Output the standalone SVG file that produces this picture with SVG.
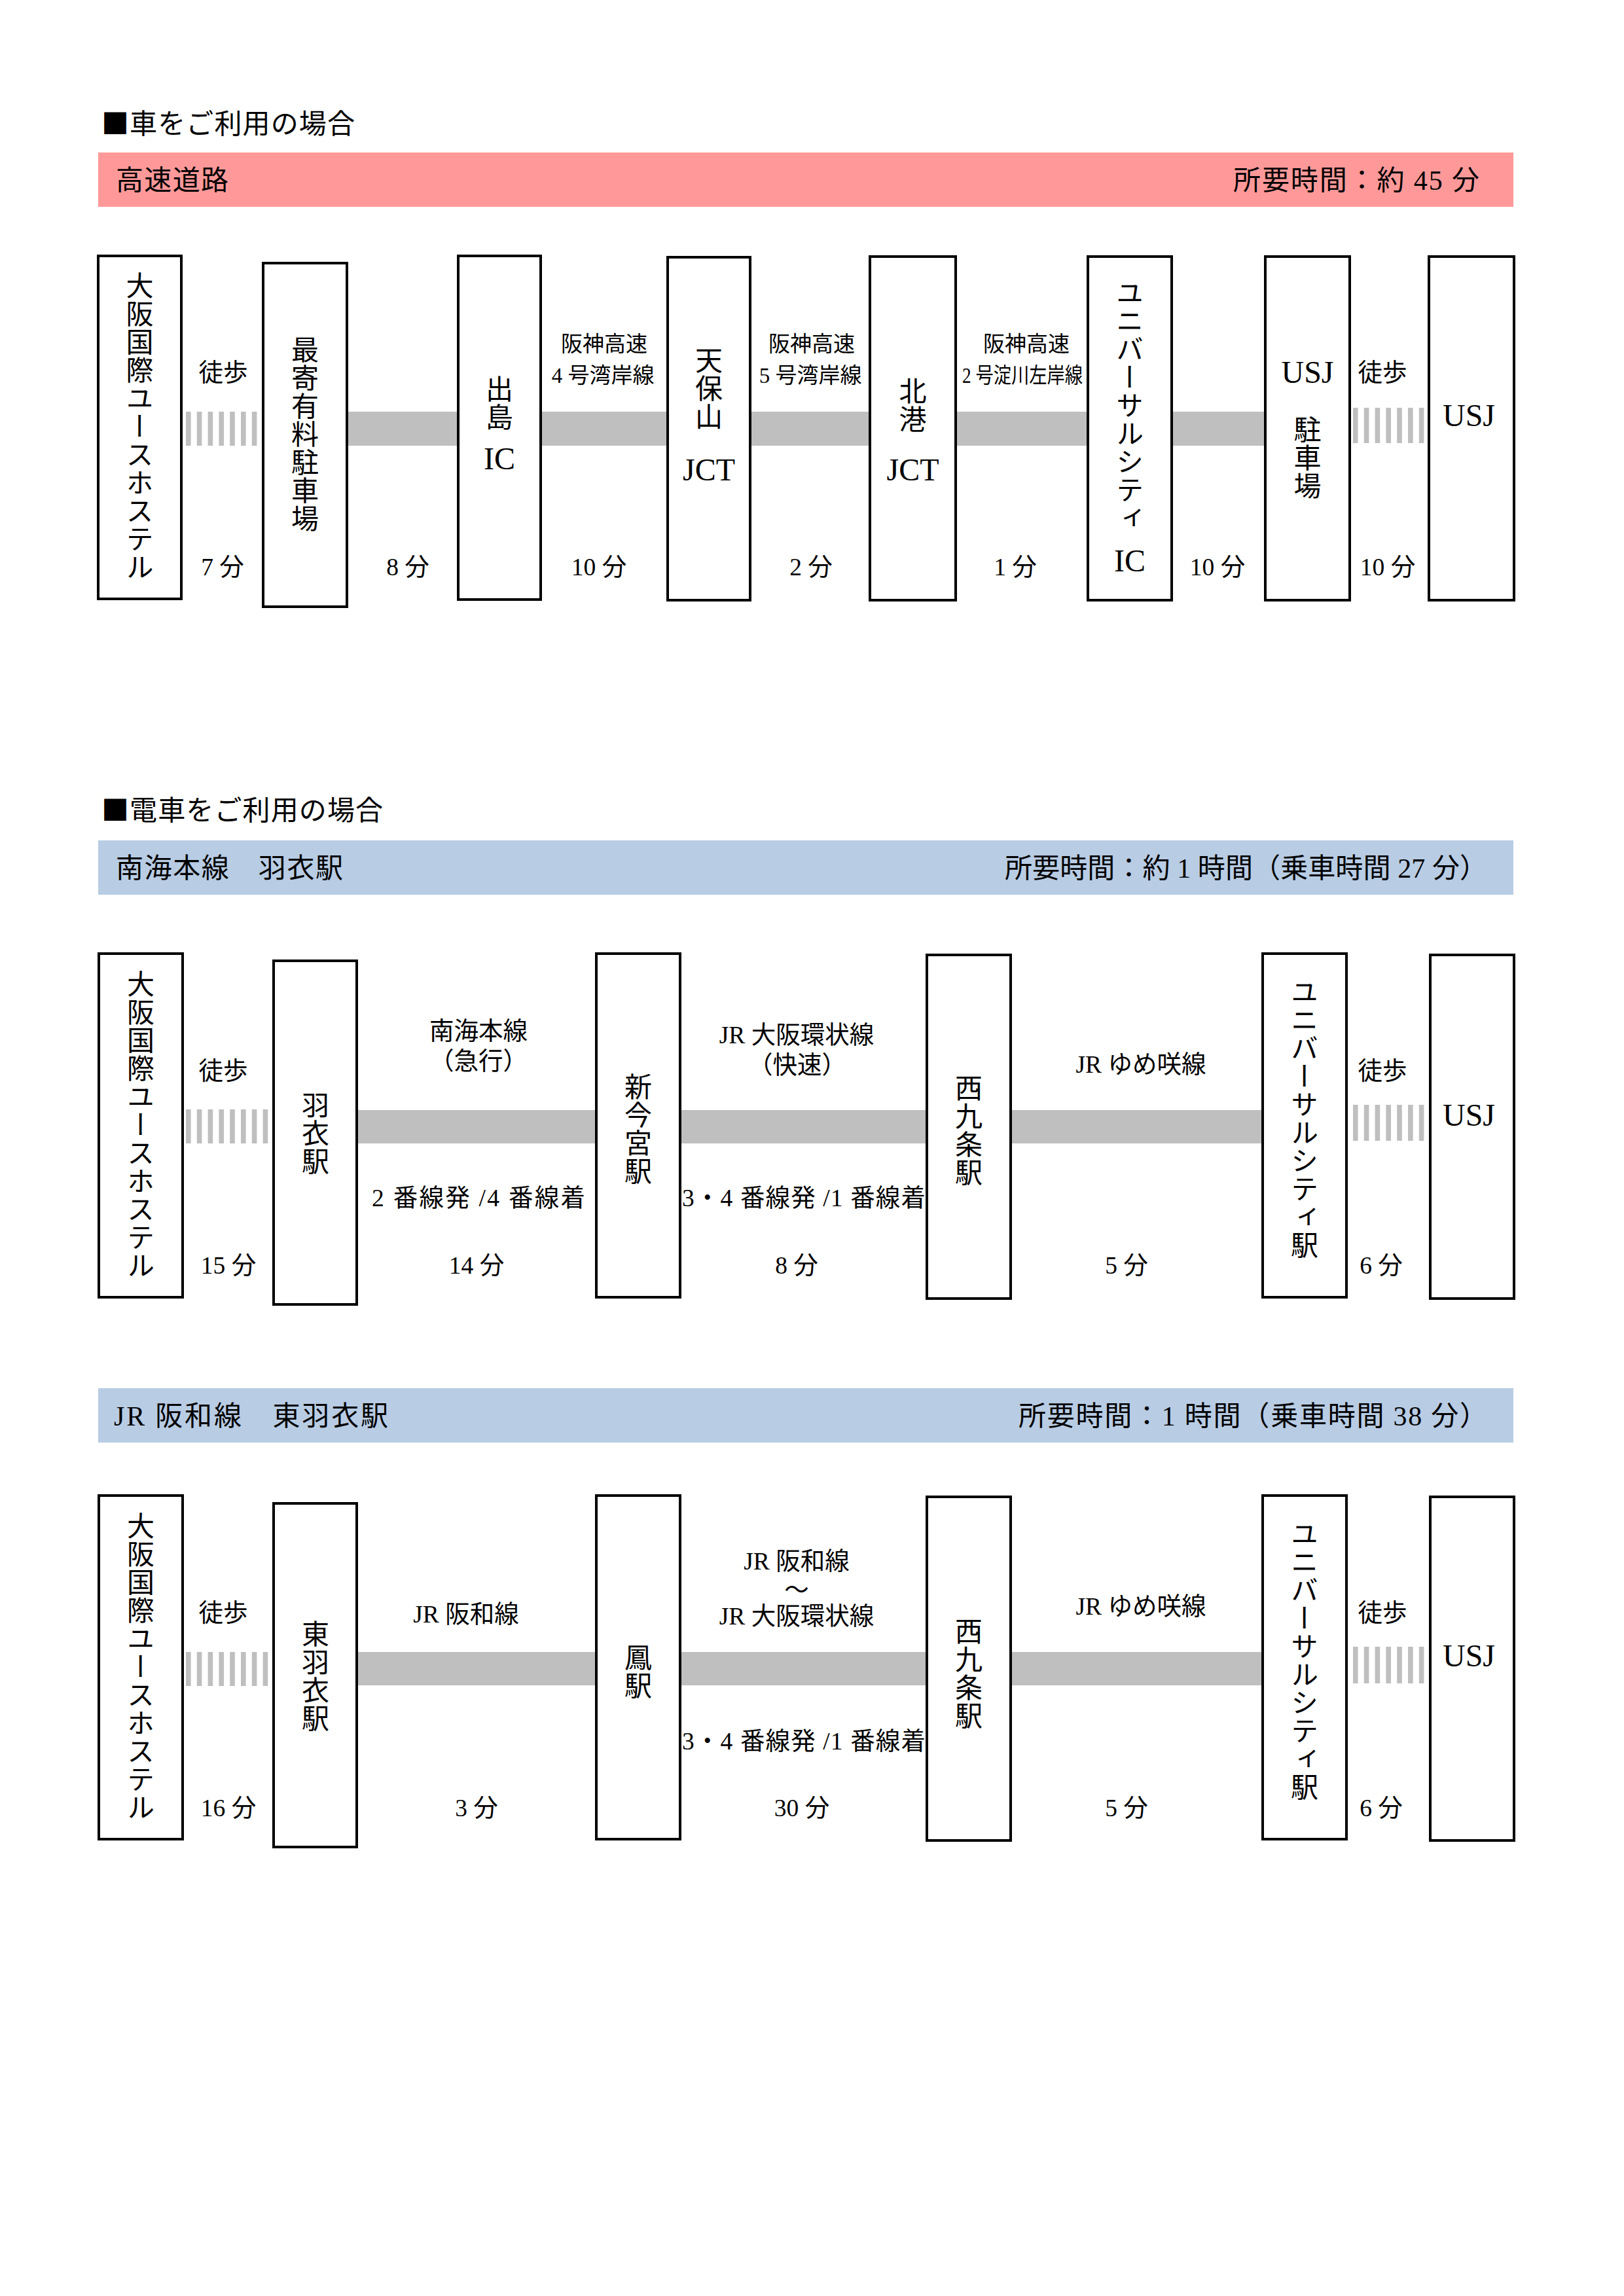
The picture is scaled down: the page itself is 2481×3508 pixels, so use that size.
<svg xmlns="http://www.w3.org/2000/svg" width="2481" height="3508" viewBox="0 0 2481 3508">
<style>
text { font-family: "Liberation Serif", "Noto Sans CJK JP", serif; fill: #000; }
.title { font-family: "Noto Sans CJK JP", sans-serif; font-size: 42px; }
.bartxt { font-size: 42px; }
.box { fill: #fff; stroke: #000; stroke-width: 4; }
.v { font-family: "Noto Sans CJK JP", sans-serif; writing-mode: vertical-rl; font-size: 42px; letter-spacing: 1px; text-anchor: middle; }
.lat { font-size: 48px; text-anchor: middle; }
.lbl { font-size: 37.5px; text-anchor: middle; }
.sm { font-size: 33px; text-anchor: middle; }
.road { fill: #bfbfbf; }
.walk { stroke: #bfbfbf; stroke-dasharray: 7.6 9.2; fill: none; }
</style>
<rect width="2481" height="3508" fill="#fff"/>

<!-- Section 1 -->
<text class="title" x="155" y="204" textLength="387">■車をご利用の場合</text>
<rect x="150" y="233" width="2162" height="83" fill="#ff9999"/>
<text class="bartxt" x="177" y="290" textLength="172">高速道路</text>
<text class="bartxt" x="1884" y="290" textLength="376">所要時間：約 45 分</text>

<!-- Section 2 -->
<text class="title" x="155" y="1253" textLength="430">■電車をご利用の場合</text>
<rect x="150" y="1284" width="2162" height="83" fill="#b8cce4"/>
<text class="bartxt" x="177" y="1341" textLength="347">南海本線　羽衣駅</text>
<text class="bartxt" x="1535" y="1341" textLength="737">所要時間：約 1 時間（乗車時間 27 分）</text>

<!-- Section 3 -->
<rect x="150" y="2121" width="2162" height="83" fill="#b8cce4"/>
<text class="bartxt" x="174" y="2178" textLength="419">JR 阪和線　東羽衣駅</text>
<text class="bartxt" x="1556" y="2178" textLength="716">所要時間：1 時間（乗車時間 38 分）</text>

<g id="connectors">
  <!-- section 1 -->
  <line class="walk" x1="284" y1="655" x2="392.4" y2="655" stroke-width="52"/>
  <rect class="road" x="530" y="629" width="170" height="52"/>
  <rect class="road" x="826" y="629" width="194" height="52"/>
  <rect class="road" x="1146" y="629" width="183" height="52"/>
  <rect class="road" x="1460" y="629" width="202" height="52"/>
  <rect class="road" x="1790" y="629" width="143" height="52"/>
  <line class="walk" x1="2067" y1="650" x2="2175.4" y2="650" stroke-width="54"/>
  <!-- section 2 -->
  <line class="walk" x1="284" y1="1721" x2="409.2" y2="1721" stroke-width="52"/>
  <rect class="road" x="545" y="1696" width="366" height="51"/>
  <rect class="road" x="1039" y="1696" width="377" height="51"/>
  <rect class="road" x="1544" y="1696" width="385" height="51"/>
  <line class="walk" x1="2067" y1="1715.5" x2="2175.4" y2="1715.5" stroke-width="55"/>
  <!-- section 3 -->
  <line class="walk" x1="284" y1="2550" x2="409.2" y2="2550" stroke-width="52"/>
  <rect class="road" x="545" y="2524" width="366" height="51"/>
  <rect class="road" x="1039" y="2524" width="377" height="51"/>
  <rect class="road" x="1544" y="2524" width="385" height="51"/>
  <line class="walk" x1="2067" y1="2544" x2="2175.4" y2="2544" stroke-width="56"/>
</g>

<!-- Section 1 nodes -->
<g id="car-hostel"><rect class="box" x="150" y="391" width="127" height="524"/><text class="v" x="213.5" y="651.5">大阪国際ユースホステル</text></g>
<g id="car-parking"><rect class="box" x="402" y="402" width="128" height="525"/><text class="v" x="466" y="664">最寄有料駐車場</text></g>
<g id="car-dejima"><rect class="box" x="700" y="391" width="126" height="525"/><text class="v" x="763" y="616.5">出島</text><text class="lat" x="763" y="717">IC</text></g>
<g id="car-tempozan"><rect class="box" x="1020" y="393" width="126" height="524"/><text class="v" x="1083" y="594">天保山</text><text class="lat" x="1083" y="734">JCT</text></g>
<g id="car-hokko"><rect class="box" x="1329" y="392" width="131" height="525"/><text class="v" x="1394.5" y="619.5">北港</text><text class="lat" x="1394.5" y="734">JCT</text></g>
<g id="car-ucity"><rect class="box" x="1662" y="392" width="128" height="525"/><text class="v" x="1726" y="620">ユニバーサルシティ</text><text class="lat" x="1726" y="873">IC</text></g>
<g id="car-usjparking"><rect class="box" x="1933" y="392" width="129" height="525"/><text class="lat" x="1997.5" y="585">USJ</text><text class="v" x="1997.5" y="699.5">駐車場</text></g>
<g id="car-usj"><rect class="box" x="2183" y="392" width="130" height="525"/><text class="lat" x="2244" y="651">USJ</text></g>

<g id="car-labels">
  <text class="lbl" x="341" y="582">徒歩</text>
  <text class="lbl" x="340" y="879">7 分</text>
  <text class="lbl" x="623" y="879">8 分</text>
  <text class="sm" x="923" y="537">阪神高速</text>
  <text class="sm" x="921" y="585">4 号湾岸線</text>
  <text class="lbl" x="915" y="879">10 分</text>
  <text class="sm" x="1240" y="537">阪神高速</text>
  <text class="sm" x="1238" y="585">5 号湾岸線</text>
  <text class="lbl" x="1239" y="879">2 分</text>
  <text class="sm" x="1568" y="537">阪神高速</text>
  <text class="sm" x="1562" y="585" textLength="184" lengthAdjust="spacingAndGlyphs">2 号淀川左岸線</text>
  <text class="lbl" x="1551" y="879">1 分</text>
  <text class="lbl" x="1860" y="879">10 分</text>
  <text class="lbl" x="2112" y="582">徒歩</text>
  <text class="lbl" x="2120" y="879">10 分</text>
</g>

<!-- Section 2 nodes -->
<g id="nankai-hostel"><rect class="box" x="151" y="1457" width="128" height="525"/><text class="v" x="215" y="1719">大阪国際ユースホステル</text></g>
<g id="nankai-hagoromo"><rect class="box" x="418" y="1468" width="127" height="525"/><text class="v" x="482" y="1732">羽衣駅</text></g>
<g id="nankai-shinimamiya"><rect class="box" x="911" y="1457" width="128" height="525"/><text class="v" x="975" y="1725">新今宮駅</text></g>
<g id="nankai-nishikujo"><rect class="box" x="1416" y="1459" width="128" height="525"/><text class="v" x="1480" y="1727">西九条駅</text></g>
<g id="nankai-ucity"><rect class="box" x="1929" y="1457" width="128" height="525"/><text class="v" x="1993" y="1709">ユニバーサルシティ駅</text></g>
<g id="nankai-usj"><rect class="box" x="2185" y="1459" width="128" height="525"/><text class="lat" x="2244" y="1720">USJ</text></g>

<g id="nankai-labels">
  <text class="lbl" x="341" y="1649">徒歩</text>
  <text class="lbl" x="349" y="1946">15 分</text>
  <text class="lbl" x="731" y="1588">南海本線</text>
  <text class="lbl" x="731" y="1634">（急行）</text>
  <text class="lbl" x="731" y="1843" textLength="326">2 番線発 /4 番線着</text>
  <text class="lbl" x="728" y="1946">14 分</text>
  <text class="lbl" x="1217" y="1594">JR 大阪環状線</text>
  <text class="lbl" x="1218" y="1640">（快速）</text>
  <text class="lbl" x="1228" y="1843" textLength="372">3・4 番線発 /1 番線着</text>
  <text class="lbl" x="1217" y="1946">8 分</text>
  <text class="lbl" x="1743" y="1639">JR ゆめ咲線</text>
  <text class="lbl" x="1721" y="1946">5 分</text>
  <text class="lbl" x="2112" y="1649">徒歩</text>
  <text class="lbl" x="2110" y="1946">6 分</text>
</g>

<!-- Section 3 nodes -->
<g id="jr-hostel"><rect class="box" x="151" y="2285" width="128" height="525"/><text class="v" x="215" y="2547">大阪国際ユースホステル</text></g>
<g id="jr-higashihagoromo"><rect class="box" x="418" y="2297" width="127" height="525"/><text class="v" x="482" y="2561">東羽衣駅</text></g>
<g id="jr-otori"><rect class="box" x="911" y="2285" width="128" height="525"/><text class="v" x="975" y="2554">鳳駅</text></g>
<g id="jr-nishikujo"><rect class="box" x="1416" y="2287" width="128" height="525"/><text class="v" x="1480" y="2557">西九条駅</text></g>
<g id="jr-ucity"><rect class="box" x="1929" y="2285" width="128" height="525"/><text class="v" x="1993" y="2537">ユニバーサルシティ駅</text></g>
<g id="jr-usj"><rect class="box" x="2185" y="2287" width="128" height="525"/><text class="lat" x="2244" y="2546">USJ</text></g>

<g id="jr-labels">
  <text class="lbl" x="341" y="2477">徒歩</text>
  <text class="lbl" x="349" y="2775">16 分</text>
  <text class="lbl" x="712" y="2479">JR 阪和線</text>
  <text class="lbl" x="728" y="2775">3 分</text>
  <text class="lbl" x="1217" y="2398">JR 阪和線</text>
  <text class="lbl" x="1217" y="2442">～</text>
  <text class="lbl" x="1217" y="2482">JR 大阪環状線</text>
  <text class="lbl" x="1228" y="2673" textLength="372">3・4 番線発 /1 番線着</text>
  <text class="lbl" x="1225" y="2775">30 分</text>
  <text class="lbl" x="1743" y="2467">JR ゆめ咲線</text>
  <text class="lbl" x="1721" y="2775">5 分</text>
  <text class="lbl" x="2112" y="2477">徒歩</text>
  <text class="lbl" x="2110" y="2775">6 分</text>
</g>
</svg>
